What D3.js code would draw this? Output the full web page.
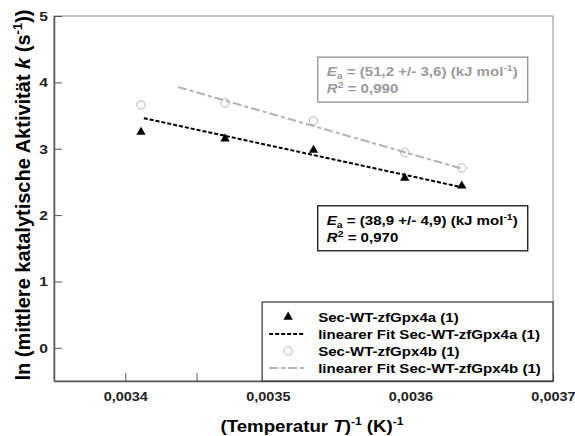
<!DOCTYPE html>
<html>
<head>
<meta charset="utf-8">
<script src="https://cdn.jsdelivr.net/npm/d3@7"></script>
<style>
  body { margin: 0; background: #fff; }
  svg text { font-family: "Liberation Sans", Arial, sans-serif; font-weight: bold; }
</style>
</head>
<body>
<svg id="chart" width="575" height="436"></svg>
<script>
// inverse temperature (1/K) of the measurements
const invT = [0.003411, 0.003470, 0.003532, 0.003596, 0.003636];
// ln k for the two enzymes
const lnK4a = [3.25, 3.15, 2.98, 2.56, 2.44];
const lnK4b = [3.66, 3.69, 3.42, 2.94, 2.71];
// fit line end points
const fitAx = [0.003413, 0.003636];
const fitAy = [3.46, 2.42];
const fitBx = [0.003437, 0.003636];
const fitBy = [3.93, 2.70];

const xTicks = [0.0034, 0.0035, 0.0036, 0.0037];
const xMinor = [0.00345, 0.00355, 0.00365];
const yTicks = [0, 1, 2, 3, 4, 5];

const legendLabels = [
    "Sec-WT-zfGpx4a (1)",
    "linearer Fit Sec-WT-zfGpx4a (1)",
    "Sec-WT-zfGpx4b (1)",
    "linearer Fit Sec-WT-zfGpx4b (1)"
];

const margin = {top: 16, right: 22, bottom: 55, left: 54};
const width = 575, height = 436;
const innerW = width - margin.left - margin.right;
const innerH = height - margin.top - margin.bottom;

const grayLine = "#b4b4b4";
const grayText = "#9a9a9a";
const axisColor = "#555";
const sx = 1.16; // the original text is a bit wider than Liberation Sans

const svg = d3.select("#chart");
const g = svg.append("g").attr("transform", `translate(${margin.left},${margin.top})`);

const xScale = d3.scaleLinear().domain([0.00335, 0.0037]).range([0, innerW]);
const yScale = d3.scaleLinear().domain([-0.5, 5]).range([innerH, 0]);

const fmt = d => d3.format(".4f")(d).replace(".", ",");

// frame
g.append("rect")
    .attr("width", innerW)
    .attr("height", innerH)
    .attr("fill", "none")
    .attr("stroke", "#888")
    .attr("stroke-width", 1);

const xAxis = g.append("g")
    .attr("transform", `translate(0,${innerH})`)
    .call(d3.axisBottom(xScale).tickValues(xTicks).tickFormat(fmt).tickSizeInner(-8).tickSizeOuter(0).tickPadding(11));
xAxis.selectAll(".tick text")
    .attr("font-size", 12.5)
    .attr("fill", "#222")
    .attr("transform", `scale(${sx},1)`);

g.append("g")
    .attr("transform", `translate(0,${innerH})`)
    .call(d3.axisBottom(xScale).tickValues(xMinor).tickFormat("").tickSizeInner(-8).tickSizeOuter(0))
    .select(".domain").remove();

const yAxis = g.append("g")
    .call(d3.axisLeft(yScale).tickValues(yTicks).tickFormat(d3.format("d")).tickSizeInner(-8).tickSizeOuter(0).tickPadding(6));
yAxis.selectAll(".tick text")
    .attr("font-size", 13.5)
    .attr("fill", "#222")
    .attr("x", -6 / sx)
    .attr("transform", `scale(${sx},1)`);

svg.selectAll(".domain").attr("stroke", axisColor).attr("stroke-width", 1.5);
svg.selectAll(".tick line").attr("stroke", axisColor);

// fit lines
const line = d3.line().x(d => xScale(d[0])).y(d => yScale(d[1]));

g.append("path")
    .datum(d3.zip(fitBx, fitBy))
    .attr("d", line)
    .attr("fill", "none")
    .attr("stroke", grayLine)
    .attr("stroke-width", 2)
    .attr("stroke-dasharray", "9,3,4,3");

g.append("path")
    .datum(d3.zip(fitAx, fitAy))
    .attr("d", line)
    .attr("fill", "none")
    .attr("stroke", "#000")
    .attr("stroke-width", 2)
    .attr("stroke-dasharray", "4,2");

// points
const tri = d3.symbol().type(d3.symbolTriangle).size(38);

g.selectAll(".pt-a")
    .data(d3.zip(invT, lnK4a))
    .join("path")
    .attr("class", "pt-a")
    .attr("d", tri)
    .attr("transform", d => `translate(${xScale(d[0])},${yScale(d[1])})`)
    .attr("fill", "#000");

g.selectAll(".pt-b")
    .data(d3.zip(invT, lnK4b))
    .join("circle")
    .attr("class", "pt-b")
    .attr("cx", d => xScale(d[0]))
    .attr("cy", d => yScale(d[1]))
    .attr("r", 4.2)
    .attr("fill", "none")
    .attr("stroke", grayLine)
    .attr("stroke-width", 1);

// annotation boxes
const addNote = (x, y, color, border, ea, r2) => {
    const box = g.append("g").attr("transform", `translate(${x},${y})`);
    box.append("rect")
        .attr("width", 210).attr("height", 45)
        .attr("fill", "#fff")
        .attr("stroke", border)
        .attr("stroke-width", 1.2);
    const t1 = box.append("text").attr("transform", `translate(9,19) scale(${sx},1)`).attr("font-size", 13).attr("fill", color);
    t1.append("tspan").attr("font-style", "italic").text("E");
    t1.append("tspan").attr("font-size", 9).attr("dy", 3).text("a");
    t1.append("tspan").attr("dy", -3).text(` = (${ea}) (kJ mol`);
    t1.append("tspan").attr("font-size", 9).attr("dy", -5).text("-1");
    t1.append("tspan").attr("dy", 5).text(")");
    const t2 = box.append("text").attr("transform", `translate(9,36) scale(${sx},1)`).attr("font-size", 13).attr("fill", color);
    t2.append("tspan").attr("font-style", "italic").text("R");
    t2.append("tspan").attr("font-size", 9).attr("dy", -5).text("2");
    t2.append("tspan").attr("dy", 5).text(` = ${r2}`);
};

addNote(xScale(0.003535), yScale(4.38), grayText, "#888", "51,2 +/- 3,6", "0,990");
addNote(xScale(0.003535), yScale(2.14), "#000", "#000", "38,9 +/- 4,9", "0,970");

// legend
const legend = g.append("g").attr("transform", `translate(${xScale(0.003496)},${yScale(0.69)})`);
const legW = innerW - xScale(0.003496);
legend.append("rect")
    .attr("width", legW)
    .attr("height", innerH - yScale(0.69))
    .attr("fill", "#fff")
    .attr("stroke", "#333")
    .attr("stroke-width", 1.2);

legendLabels.forEach((label, i) => {
    const cy = 15 + i * 17;
    const row = legend.append("g").attr("transform", `translate(0,${cy})`);
    if (i === 0) {
        row.append("path").attr("d", tri).attr("transform", "translate(26,0)").attr("fill", "#000");
    } else if (i === 1) {
        row.append("line").attr("x1", 7).attr("x2", 43).attr("stroke", "#000").attr("stroke-width", 2).attr("stroke-dasharray", "4,2");
    } else if (i === 2) {
        row.append("circle").attr("cx", 26).attr("r", 4.2).attr("fill", "none").attr("stroke", grayLine);
    } else {
        row.append("line").attr("x1", 7).attr("x2", 43).attr("stroke", grayLine).attr("stroke-width", 2).attr("stroke-dasharray", "9,3,4,3");
    }
    row.append("text")
        .attr("transform", `translate(56,5) scale(${sx},1)`)
        .attr("font-size", 13)
        .attr("fill", "#000")
        .text(label);
});

// axis titles
const xt = svg.append("text")
    .attr("transform", `translate(312,432) scale(1.1,1)`)
    .attr("text-anchor", "middle")
    .attr("font-size", 17)
    .attr("fill", "#000");
xt.append("tspan").text("(Temperatur ");
xt.append("tspan").attr("font-style", "italic").text("T");
xt.append("tspan").text(")");
xt.append("tspan").attr("font-size", 11).attr("dy", -7).text("-1");
xt.append("tspan").attr("dy", 7).text(" (K)");
xt.append("tspan").attr("font-size", 11).attr("dy", -7).text("-1");

const yt = svg.append("text")
    .attr("transform", `translate(30,195) rotate(-90)`)
    .attr("text-anchor", "middle")
    .attr("font-size", 20)
    .attr("fill", "#000");
yt.append("tspan").text("ln (mittlere katalytische Aktivität ");
yt.append("tspan").attr("font-style", "italic").text("k");
yt.append("tspan").text(" (s");
yt.append("tspan").attr("font-size", 13).attr("dy", -8).text("-1");
yt.append("tspan").attr("dy", 8).text("))");
</script>
</body>
</html>
